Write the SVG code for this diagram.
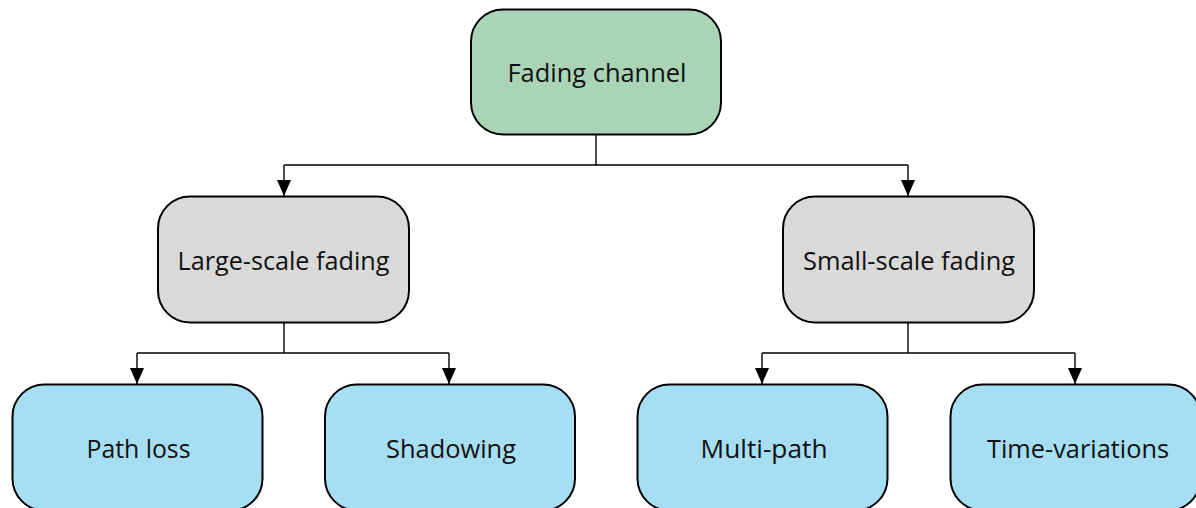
<svg xmlns="http://www.w3.org/2000/svg" width="1196" height="508" viewBox="0 0 1196 508">
  <style>
    .box { stroke: #000; stroke-width: 2; }
    .root { fill: #A9D5B6; }
    .mid { fill: #D9D9D9; }
    .leaf { fill: #A6DEF3; }
    .label { font-family: "Open Sans", "Noto Sans", "Liberation Sans", sans-serif; font-size: 25.5px; fill: #111; text-anchor: middle; }
    .wire { fill: none; stroke: #000; stroke-width: 1.4; }
  </style>
  <defs>
    <!-- solid triangle head, drawn along +x so orient="auto" points it down the wire -->
    <marker id="arrow" viewBox="0 0 16 14" refX="16" refY="7" markerWidth="16" markerHeight="14" markerUnits="userSpaceOnUse" orient="auto">
      <path d="M0,0 L16,7 L0,14 Z" fill="#000"/>
    </marker>
  </defs>

  <g id="connectors">
    <!-- root to second level -->
    <path class="wire" d="M596,134 V165"/>
    <path class="wire" d="M284,165 H908"/>
    <path class="wire" d="M284,165 V196" marker-end="url(#arrow)"/>
    <path class="wire" d="M908,165 V196" marker-end="url(#arrow)"/>
    <!-- large-scale branch -->
    <path class="wire" d="M284,322 V353"/>
    <path class="wire" d="M137,353 H449"/>
    <path class="wire" d="M137,353 V384" marker-end="url(#arrow)"/>
    <path class="wire" d="M449,353 V384" marker-end="url(#arrow)"/>
    <!-- small-scale branch -->
    <path class="wire" d="M908,322 V353"/>
    <path class="wire" d="M762,353 H1075"/>
    <path class="wire" d="M762,353 V384" marker-end="url(#arrow)"/>
    <path class="wire" d="M1075,353 V384" marker-end="url(#arrow)"/>
  </g>

  <g id="fading-channel">
    <rect class="box root" x="471" y="9.5" width="250" height="125" rx="32"/>
    <text class="label" x="597" y="82" textLength="179" lengthAdjust="spacingAndGlyphs">Fading channel</text>
  </g>

  <g id="large-scale-fading">
    <rect class="box mid" x="158" y="196.5" width="251" height="126" rx="32"/>
    <text class="label" x="283.5" y="270" textLength="212" lengthAdjust="spacingAndGlyphs">Large-scale fading</text>
  </g>

  <g id="small-scale-fading">
    <rect class="box mid" x="783" y="196.5" width="251" height="126" rx="32"/>
    <text class="label" x="909" y="270" textLength="212" lengthAdjust="spacingAndGlyphs">Small-scale fading</text>
  </g>

  <g id="path-loss">
    <rect class="box leaf" x="12.5" y="384.5" width="250" height="126" rx="32"/>
    <text class="label" x="138.5" y="458" textLength="104" lengthAdjust="spacingAndGlyphs">Path loss</text>
  </g>

  <g id="shadowing">
    <rect class="box leaf" x="325" y="384.5" width="250" height="126" rx="32"/>
    <text class="label" x="451" y="458" textLength="130" lengthAdjust="spacingAndGlyphs">Shadowing</text>
  </g>

  <g id="multi-path">
    <rect class="box leaf" x="637.5" y="384.5" width="250" height="126" rx="32"/>
    <text class="label" x="764" y="458" textLength="127" lengthAdjust="spacingAndGlyphs">Multi-path</text>
  </g>

  <g id="time-variations">
    <rect class="box leaf" x="950.5" y="384.5" width="250" height="126" rx="32"/>
    <text class="label" x="1078" y="458" textLength="182" lengthAdjust="spacingAndGlyphs">Time-variations</text>
  </g>
</svg>
